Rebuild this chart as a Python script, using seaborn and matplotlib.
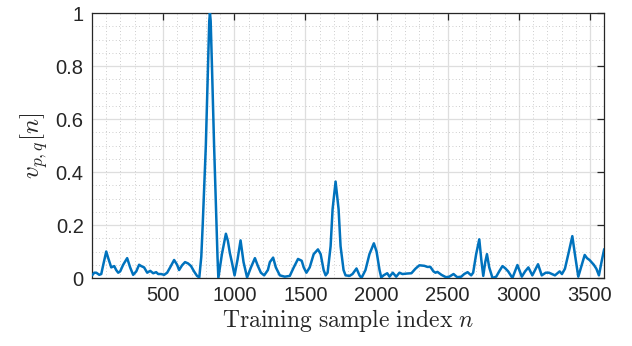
import matplotlib
matplotlib.use("Agg")
import matplotlib.pyplot as plt
import seaborn as sns
import pandas as pd
from matplotlib.ticker import MultipleLocator, FixedLocator

# Sample index
sample_index = [
    0, 16, 30, 51, 65, 79, 100, 114, 135, 156, 170, 184, 198, 219, 247, 268, 289,
    311, 331, 346, 366, 388, 409, 430, 451, 465, 486, 507, 528, 549, 577, 598, 612,
    633, 654, 675, 696, 717, 738, 754,
    768, 778, 800, 815, 824, 829, 834, 843, 858, 875, 882, 888,
    913, 941, 955, 969, 983, 1002, 1023, 1044, 1065, 1090, 1117, 1145, 1166, 1187,
    1210, 1236, 1250, 1273, 1292, 1320, 1355, 1390, 1418, 1448, 1474, 1488, 1507,
    1530, 1558, 1588, 1607, 1628, 1642, 1656, 1677, 1691, 1712, 1733, 1747, 1768,
    1782, 1810, 1831, 1859, 1880, 1894, 1922, 1950, 1981, 2000, 2021, 2033, 2049,
    2075, 2091, 2114, 2138, 2161, 2182, 2217, 2245, 2273, 2301, 2336, 2357, 2378,
    2400, 2414, 2428, 2456, 2488, 2511, 2541, 2567, 2595, 2616, 2640, 2665, 2679,
    2700, 2722, 2736, 2750, 2764, 2776, 2792, 2815, 2841, 2862, 2885, 2904, 2925,
    2955, 2990, 3021, 3044, 3067, 3095, 3114, 3135, 3161, 3189, 3212, 3233, 3254,
    3287, 3303, 3324, 3352, 3376, 3394, 3418, 3437, 3463, 3479, 3497, 3527, 3545,
    3563, 3581, 3600,
]

# Normalised value v_{p,q}[n]
v_pq = [
    0.01, 0.02, 0.02, 0.012, 0.015, 0.05, 0.10, 0.075, 0.04, 0.045, 0.03, 0.02, 0.025,
    0.05, 0.075, 0.04, 0.012, 0.025, 0.05, 0.045, 0.04, 0.02, 0.027, 0.018, 0.022,
    0.015, 0.015, 0.012, 0.02, 0.04, 0.068, 0.05, 0.03, 0.048, 0.06, 0.055, 0.045,
    0.025, 0.008, 0.002,
    0.08, 0.2, 0.5, 0.8, 0.97, 1.0, 0.97, 0.8, 0.5, 0.2, 0.08, 0.0,
    0.09, 0.167, 0.14, 0.094, 0.06, 0.01, 0.07, 0.142, 0.06, 0.002, 0.04, 0.075, 0.045,
    0.02, 0.01, 0.03, 0.06, 0.077, 0.04, 0.01, 0.005, 0.008, 0.04, 0.072, 0.065, 0.04,
    0.02, 0.04, 0.09, 0.108, 0.09, 0.03, 0.01, 0.02, 0.12, 0.26, 0.364, 0.26, 0.12,
    0.03, 0.01, 0.008, 0.015, 0.036, 0.01, 0.0, 0.03, 0.09, 0.131, 0.1, 0.03, 0.002,
    0.01, 0.018, 0.005, 0.02, 0.005, 0.02, 0.015, 0.017, 0.018, 0.035, 0.048, 0.046,
    0.042, 0.042, 0.025, 0.02, 0.023, 0.012, 0.003, 0.005, 0.015, 0.003, 0.005, 0.015,
    0.022, 0.01, 0.02, 0.09, 0.146, 0.07, 0.008, 0.06, 0.09, 0.04, 0.0, 0.005, 0.025,
    0.045, 0.037, 0.025, 0.0, 0.049, 0.005, 0.025, 0.04, 0.01, 0.03, 0.052, 0.01, 0.02,
    0.02, 0.015, 0.01, 0.025, 0.015, 0.035, 0.1, 0.158, 0.09, 0.005, 0.04, 0.087, 0.075,
    0.068, 0.05, 0.035, 0.01, 0.06, 0.109,
]

x_ticks = [500, 1000, 1500, 2000, 2500, 3000, 3500]
y_ticks = [0, 0.2, 0.4, 0.6, 0.8, 1.0]
y_tick_labels = ["0", "0.2", "0.4", "0.6", "0.8", "1"]

sns.set_theme(style="white")
plt.rcParams["font.family"] = ["Liberation Sans", "DejaVu Sans"]
plt.rcParams["mathtext.fontset"] = "cm"

df = pd.DataFrame({"n": sample_index, "v": v_pq})

fig = plt.figure(figsize=(6.32, 3.46), dpi=100)
ax = fig.add_axes([0.1456, 0.1965, 0.8104, 0.7659])

sns.lineplot(data=df, x="n", y="v", ax=ax, color="#0072BD", linewidth=1.8, zorder=3)
for ln in ax.get_lines():
    ln.set_solid_joinstyle("round")
    ln.set_solid_capstyle("round")
    ln.set_clip_on(True)

ax.set_xlim(0, 3600)
ax.set_ylim(0, 1)
ax.xaxis.set_major_locator(FixedLocator(x_ticks))
ax.xaxis.set_minor_locator(MultipleLocator(100))
ax.set_yticks(y_ticks)
ax.set_yticklabels(y_tick_labels)
ax.yaxis.set_minor_locator(MultipleLocator(0.05))

ax.grid(which="major", color="#dedede", linewidth=0.9, linestyle="-", zorder=0)
ax.grid(which="minor", color="#bdbdbd", linewidth=0.6, linestyle=(0, (1, 3)), zorder=0)
ax.set_axisbelow(True)

for s in ax.spines.values():
    s.set_color("#262626")
    s.set_linewidth(0.9)
    s.set_visible(True)

ax.tick_params(which="major", direction="in", length=5, width=0.9, color="#262626",
               top=True, right=True, labelsize=14.5, labelcolor="#262626", pad=6)
ax.tick_params(which="minor", length=0, top=True, right=True)

ax.set_xlabel(r"$\mathrm{Training\ sample\ index}\ n$", fontsize=17, color="#262626", labelpad=1)
ax.set_ylabel(r"$v_{p,q}[n]$", fontsize=18, color="#262626", labelpad=4)

fig.savefig("out.png", dpi=100)
